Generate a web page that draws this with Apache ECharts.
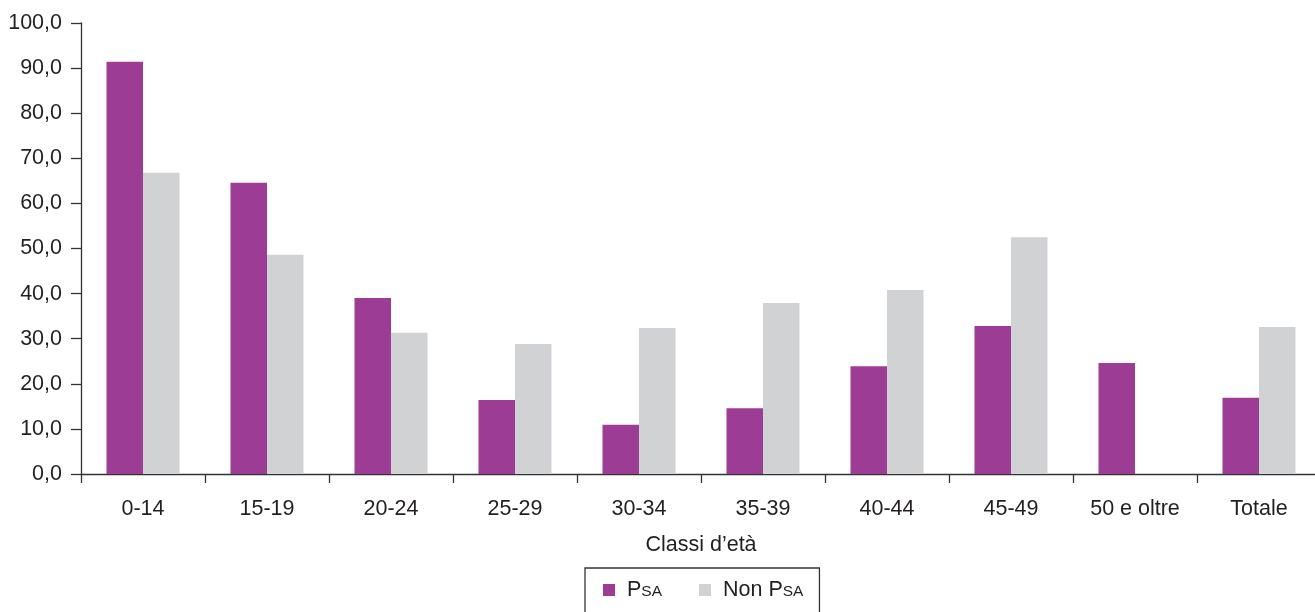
<!DOCTYPE html>
<html>
<head>
<meta charset="utf-8">
<script src="https://cdn.jsdelivr.net/npm/echarts@6/dist/echarts.min.js"></script>
<style>html,body{margin:0;padding:0;background:#fff;}#c{width:1315px;height:612px;}</style>
</head>
<body>
<div id="c"></div>
<script>
const categories = ['0-14','15-19','20-24','25-29','30-34','35-39','40-44','45-49','50 e oltre','Totale'];
const psa = [91.4, 64.6, 39.0, 16.4, 10.9, 14.6, 23.9, 32.8, 24.6, 16.9];
const nonPsa = [66.8, 48.6, 31.3, 28.8, 32.4, 37.9, 40.8, 52.5, null, 32.6];
const seriesNames = ['PSA', 'Non PSA'];
const yTicks = { min: 0, max: 100, interval: 10 };
const xAxisTitle = 'Classi d’età';

const textColor = '#231f20';
const font = 'Liberation Sans, Arial, Helvetica, sans-serif';
const fs = 21.5;
const chart = echarts.init(document.getElementById('c'), null, { renderer: 'canvas' });
chart.setOption({
  animation: false,
  grid: { left: 81, top: 23, width: 1240, bottom: 138, containLabel: false, outerBoundsMode: 'none' },
  legend: {
    data: seriesNames,
    left: 585, top: 568,
    padding: [11, 16, 30, 18],
    borderColor: '#333',
    borderWidth: 1.3,
    itemWidth: 12, itemHeight: 12,
    itemGap: 37,
    icon: 'rect',
    formatter: function (name) { return name.replace('PSA', '{b|P}{s|SA}'); },
    textStyle: {
      color: textColor, fontFamily: font, fontSize: fs, padding: [0, 0, 0, 7],
      rich: {
        b: { fontSize: fs, fontFamily: font, color: textColor },
        s: { fontSize: 15.5, fontFamily: font, color: textColor, padding: [3, 0, 0, 0] }
      }
    }
  },
  xAxis: {
    type: 'category',
    data: categories,
    name: xAxisTitle,
    nameLocation: 'middle',
    nameGap: 60,
    nameTextStyle: { color: textColor, fontFamily: font, fontSize: fs },
    axisLine: { lineStyle: { color: '#333', width: 1.3 } },
    axisTick: { show: true, length: 9, lineStyle: { color: '#333', width: 1.3 } },
    axisLabel: { color: textColor, fontFamily: font, fontSize: fs, margin: 24 }
  },
  yAxis: {
    type: 'value',
    min: yTicks.min, max: yTicks.max, interval: yTicks.interval,
    splitLine: { show: false },
    axisLine: { show: true, lineStyle: { color: '#333', width: 1.3 } },
    axisTick: { show: true, length: 10, lineStyle: { color: '#333', width: 1.3 } },
    axisLabel: {
      color: textColor, fontFamily: font, fontSize: fs, margin: 19,
      formatter: function (v) { return v.toFixed(1).replace('.', ','); }
    }
  },
  series: [
    { name: seriesNames[0], type: 'bar', data: psa, barWidth: 36.5, barGap: '0%', itemStyle: { color: '#9c3c94' } },
    { name: seriesNames[1], type: 'bar', data: nonPsa, barWidth: 36.5, barGap: '0%', itemStyle: { color: '#d1d2d4' } }
  ]
});
</script>
</body>
</html>
